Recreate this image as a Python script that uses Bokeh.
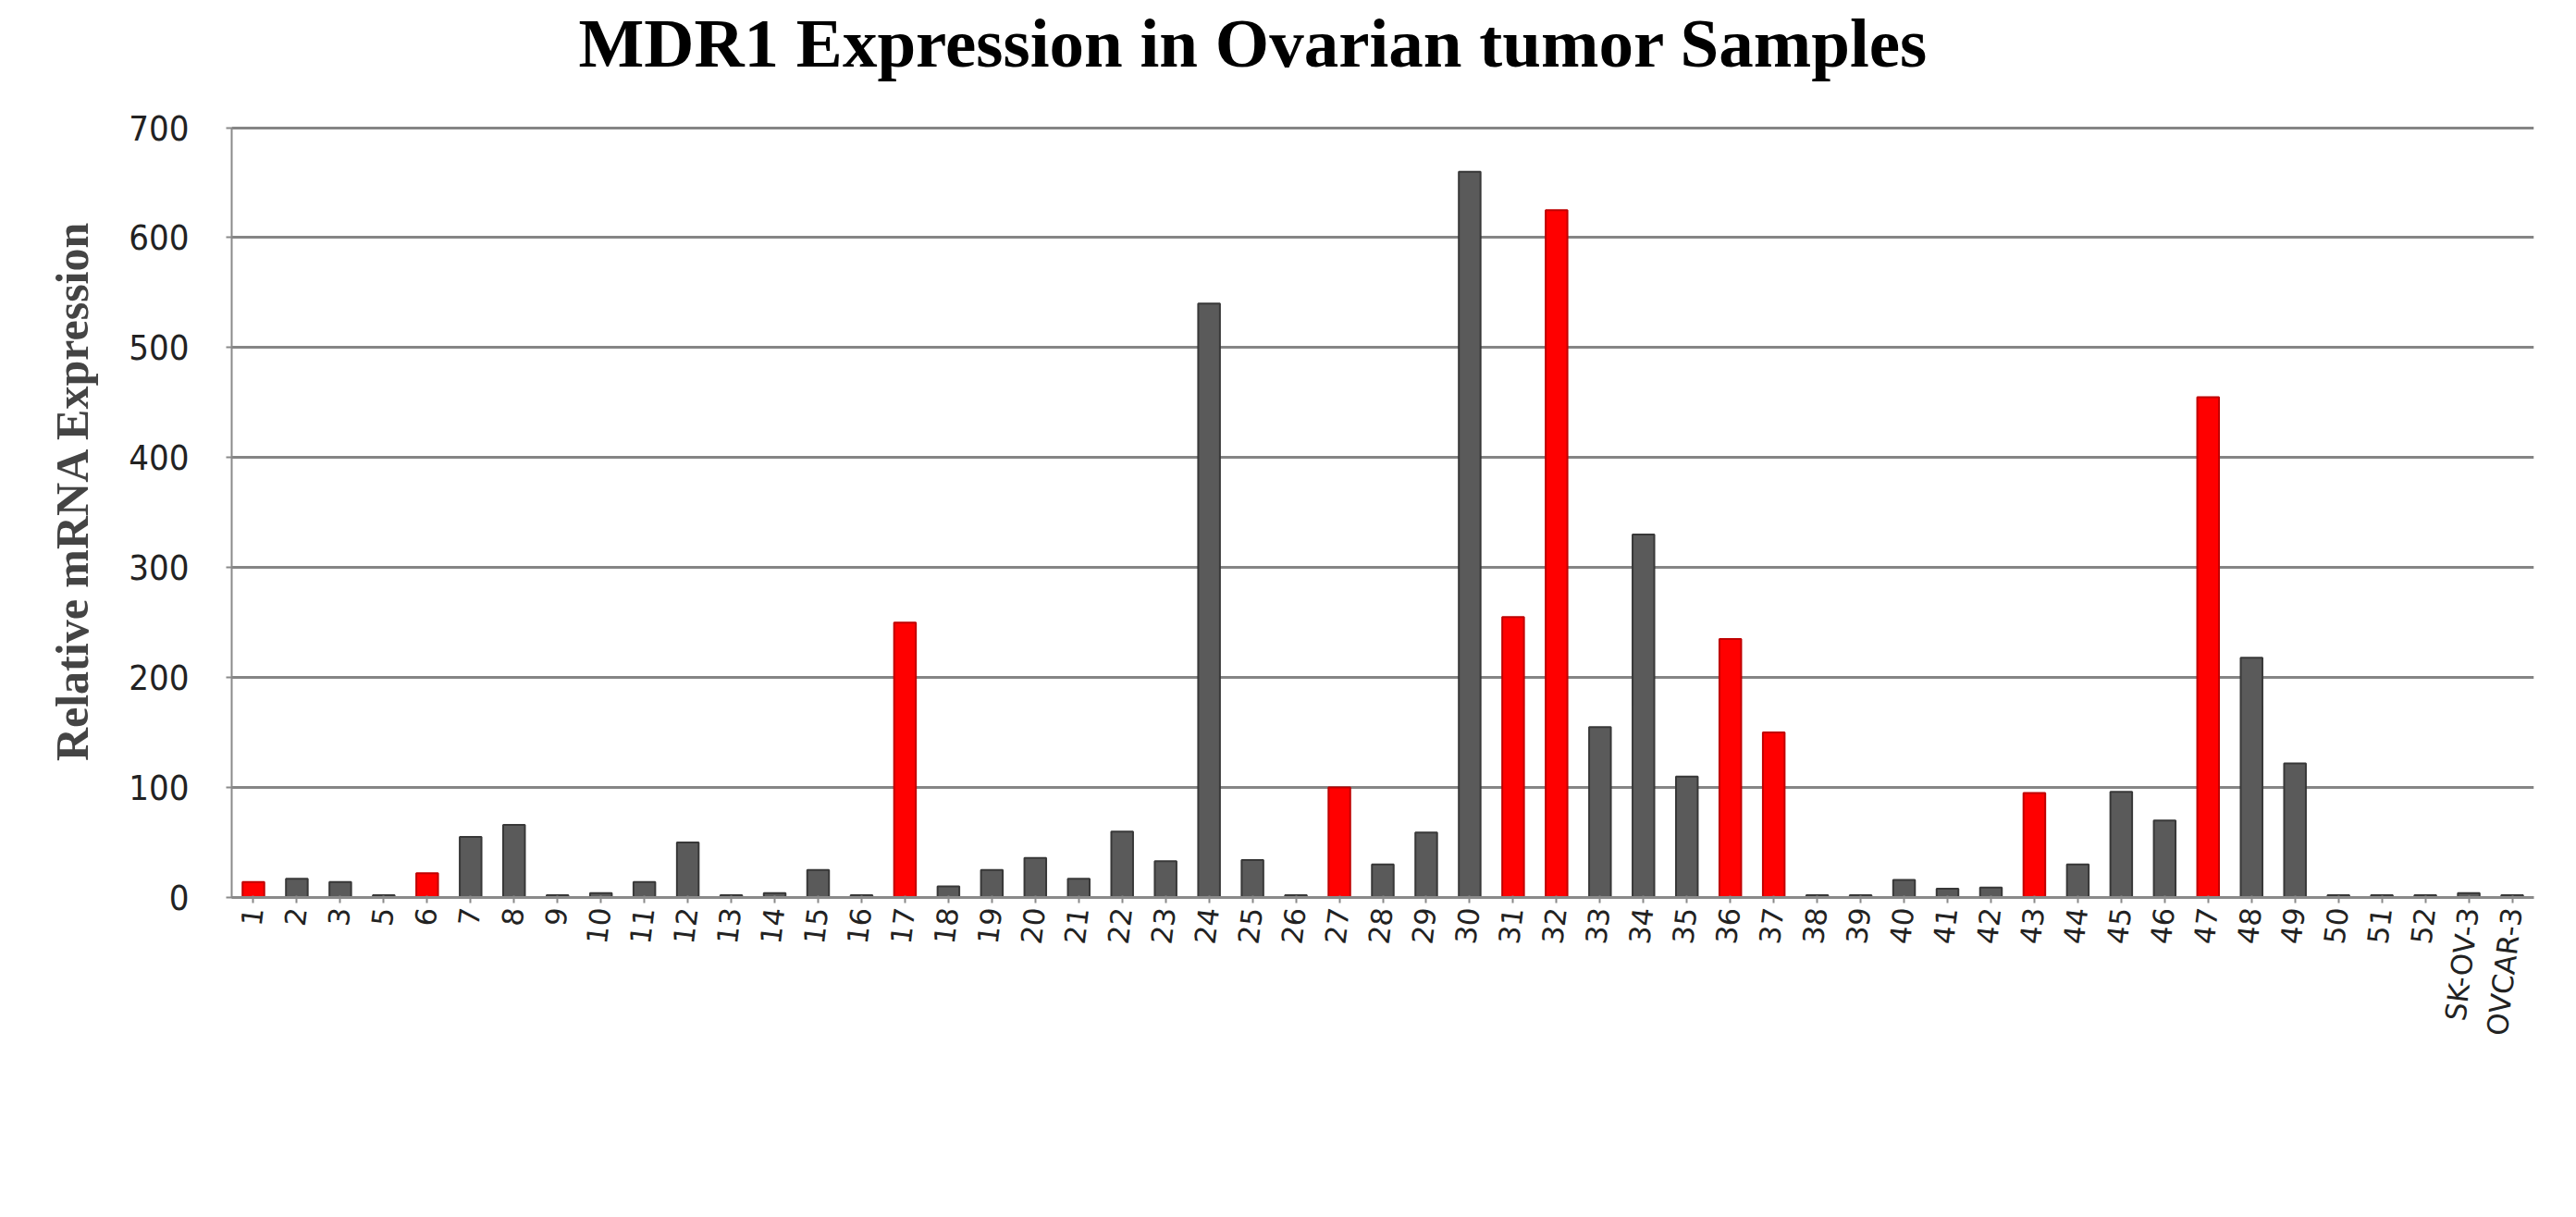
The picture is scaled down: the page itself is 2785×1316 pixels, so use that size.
from bokeh.plotting import figure
from bokeh.models import ColumnDataSource, Range1d, FixedTicker
from bokeh.transform import factor_cmap
from bokeh.embed import file_html
from bokeh.resources import INLINE

# ---- data ----
samples = ["1", "2", "3", "5", "6", "7", "8", "9", "10", "11", "12", "13", "14",
           "15", "16", "17", "18", "19", "20", "21", "22", "23", "24", "25", "26",
           "27", "28", "29", "30", "31", "32", "33", "34", "35", "36", "37", "38",
           "39", "40", "41", "42", "43", "44", "45", "46", "47", "48", "49", "50",
           "51", "52", "SK-OV-3", "OVCAR-3"]
expression = [14, 17, 14, 2, 22, 55, 66, 2, 4, 14, 50, 2, 4,
              25, 2, 250, 10, 25, 36, 17, 60, 33, 540, 34, 2,
              100, 30, 59, 660, 255, 625, 155, 330, 110, 235, 150, 2,
              2, 16, 8, 9, 95, 30, 96, 70, 455, 218, 122, 2,
              2, 2, 4, 2]
highlighted = ["1", "6", "17", "27", "31", "32", "36", "37", "43", "47"]
y_ticks = [0, 100, 200, 300, 400, 500, 600, 700]

group = ["red" if s in highlighted else "grey" for s in samples]
source = ColumnDataSource(dict(sample=samples, value=expression, group=group))

p = figure(x_range=samples, y_range=Range1d(0, 740),
           width=2769, height=1300, output_backend="svg",
           toolbar_location=None, min_border_left=250, min_border_right=30,
           min_border_top=85, min_border_bottom=330)

p.vbar(x="sample", top="value", width=0.5, source=source,
       fill_color=factor_cmap("group", ["#ff0000", "#5a5a5a"], ["red", "grey"]),
       line_color=factor_cmap("group", ["#c00000", "#383838"], ["red", "grey"]),
       line_width=2)

serif = "'Times New Roman', 'Liberation Serif', serif"

p.title.text = "MDR1 Expression in Ovarian tumor Samples"
p.title.align = "left"
p.title.offset = 375
p.title.standoff = 5
p.title.text_font = serif
p.title.text_font_size = "75px"
p.title.text_font_style = "bold"
p.title.text_color = "black"

p.yaxis.axis_label = "Relative mRNA Expression"
p.yaxis.axis_label_text_font = serif
p.yaxis.axis_label_text_font_size = "50px"
p.yaxis.axis_label_text_font_style = "bold"
p.yaxis.axis_label_standoff = 30
p.yaxis.ticker = FixedTicker(ticks=y_ticks)
p.yaxis.bounds = (0, 700)
p.yaxis.major_label_text_font = "'Liberation Sans Narrow', 'DejaVu Sans Condensed', sans-serif"
p.yaxis.major_label_text_font_size = "38px"
p.yaxis.major_label_text_color = "#222222"
p.yaxis.major_label_standoff = 40
p.yaxis.minor_tick_line_color = None
p.yaxis.axis_line_color = "#8a8a8a"
p.yaxis.axis_line_width = 2
p.yaxis.major_tick_line_color = "#8a8a8a"
p.yaxis.major_tick_line_width = 2

p.xaxis.major_label_orientation = 1.45
p.xaxis.major_label_text_font = "'DejaVu Sans', Verdana, sans-serif"
p.xaxis.major_label_text_font_size = "31px"
p.xaxis.major_label_text_color = "#222222"
p.xaxis.axis_line_color = "#8a8a8a"
p.xaxis.axis_line_width = 3
p.xaxis.major_tick_line_color = "#8a8a8a"
p.xaxis.major_tick_line_width = 2

p.ygrid.grid_line_color = "#858585"
p.ygrid.grid_line_width = 3
p.xgrid.grid_line_color = None
p.outline_line_color = None
p.background_fill_color = "white"
p.border_fill_color = "white"

open("out.html", "w").write(file_html(p, INLINE))
